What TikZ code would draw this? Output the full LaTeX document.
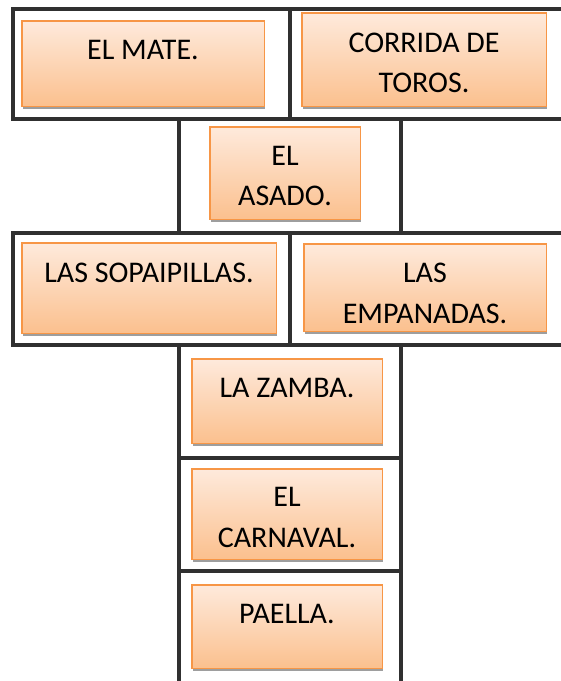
\documentclass[tikz,border=0pt]{standalone}
\usepackage{fontspec}
\setmainfont{Carlito}
\definecolor{boxtop}{HTML}{FEEADC}
\definecolor{boxbot}{HTML}{FBC08E}
\definecolor{boxline}{HTML}{F79646}
\definecolor{shadowgray}{HTML}{9E9E9E}
\definecolor{frameline}{HTML}{303030}
\tikzset{
  cell/.style={rectangle, draw=boxline, line width=1.5pt, inner sep=0pt,
    top color=boxtop, bottom color=boxbot,
    preaction={fill=shadowgray, transform canvas={xshift=1pt, yshift=-3pt}}},
  word/.style={anchor=base, inner sep=0pt, font=\fontsize{30}{36}\selectfont, text=black},
  frame/.style={draw=frameline, line width=4.5pt, line cap=rect, line join=miter}
}
\begin{document}
\begin{tikzpicture}[x=1pt, y=-1pt]
\useasboundingbox[fill=white] (0,0) rectangle (561,681);
% frame lines
\draw[frame] (570,9) -- (13,9) -- (13,119) -- (570,119);
\draw[frame] (290,9) -- (290,119);
\draw[frame] (179,119) -- (179,233);
\draw[frame] (401,119) -- (401,233);
\draw[frame] (570,233) -- (13,233) -- (13,345) -- (570,345);
\draw[frame] (290,233) -- (290,345);
\draw[frame] (179,345) -- (179,690);
\draw[frame] (401,345) -- (401,690);
\draw[frame] (179,458) -- (401,458);
\draw[frame] (179,571) -- (401,571);
% boxes
\node[cell, minimum width=242.5pt, minimum height=85.5pt] (b1) at (143,63.5) {};
\node[cell, minimum width=244.5pt, minimum height=93.5pt] (b2) at (424,59.5) {};
\node[cell, minimum width=150.5pt, minimum height=92.5pt] (b3) at (285,173) {};
\node[cell, minimum width=254.5pt, minimum height=90.5pt] (b4) at (149,288) {};
\node[cell, minimum width=242.5pt, minimum height=87.5pt] (b5) at (425,287.5) {};
\node[cell, minimum width=190.5pt, minimum height=84.5pt] (b6) at (287,401) {};
\node[cell, minimum width=190.5pt, minimum height=90.5pt] (b7) at (287,514) {};
\node[cell, minimum width=190.5pt, minimum height=83.5pt] (b8) at (287,626.5) {};
% texts
\node[word] (t1) at (143,59) {EL MATE.};
\node[word] (t2a) at (424,52) {CORRIDA DE};
\node[word] (t2b) at (424,92) {TOROS.};
\node[word] (t3a) at (285,165) {EL};
\node[word] (t3b) at (285,205) {ASADO.};
\node[word] (t4) at (149,282) {LAS SOPAIPILLAS.};
\node[word] (t5a) at (425,282) {LAS};
\node[word] (t5b) at (425,323) {EMPANADAS.};
\node[word] (t6) at (287,397) {LA ZAMBA.};
\node[word] (t7a) at (287,506) {EL};
\node[word] (t7b) at (287,547) {CARNAVAL.};
\node[word] (t8) at (287,623) {PAELLA.};
\end{tikzpicture}
\end{document}
